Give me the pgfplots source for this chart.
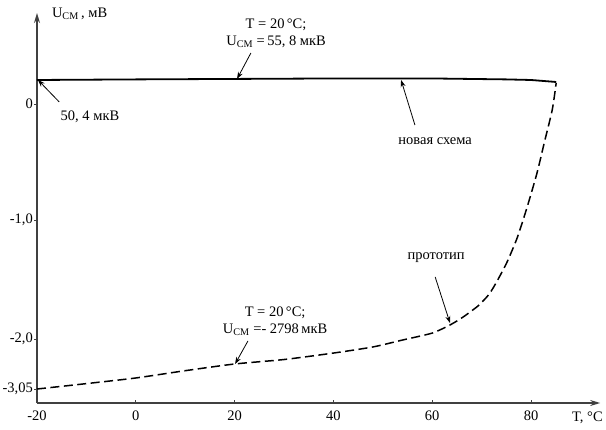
\documentclass[border=0pt]{standalone}
\usepackage{fontspec}
\setmainfont{Liberation Serif}
\usepackage{pgfplots}
\pgfplotsset{compat=1.18}
\usetikzlibrary{arrows.meta,calc}

\begin{document}
\fontsize{14.5bp}{17bp}\selectfont
\begin{tikzpicture}[
  note/.style={-{Stealth[length=7bp,width=5bp]}, line width=0.8bp}]
\begin{axis}[
  x=4.94bp, y=117.5bp,
  xmin=-20, xmax=94, ymin=-2.545, ymax=0.774,
  axis lines=left,
  axis line style={black!75, line width=1.2bp, -{Stealth[length=10bp,width=6bp]}},
  clip=false,
  tick align=outside, major tick length=3bp,
  tick style={black!75, line width=0.8bp},
  x tick style={yshift=3bp},
  xtick={-20,0,20,40,60,80},
  xticklabels={-20,0,20,40,60,80},
  ytick={-2.426,-2,-0.99,0},
  yticklabels={{-3,05},{-2,0},{-1,0},0},
  yticklabel style={inner sep=1bp},
]
  % new circuit
  \addplot[black, line width=1.8bp] coordinates {
    (-20,0.204) (0,0.209) (20,0.213) (40,0.217) (60,0.217)
    (75,0.209) (80,0.204) (85.1,0.187)};
  % prototype
  \addplot[black, line width=1.5bp, dash pattern=on 9bp off 4.5bp,
           smooth, tension=0.4] coordinates {
    (-20,-2.426) (-10,-2.38) (0,-2.332) (10,-2.27) (20,-2.213)
    (30,-2.175) (40,-2.12) (48,-2.068) (54,-2.009)
    (60,-1.95) (63.6,-1.881) (66.2,-1.815) (69.3,-1.718) (71.5,-1.62)
    (73.1,-1.51) (75.1,-1.35) (77.2,-1.14) (79.2,-0.88) (81.2,-0.59)
    (82.8,-0.31) (84.3,-0.05) (85.1,0.179)};

  \coordinate (O) at (axis cs:-20,-2.545);

  \node[anchor=west, inner sep=0] at (axis cs:-17,0.766) {U\textsubscript{СМ}\,, мВ};
  \node[anchor=west, inner sep=0] at (axis cs:88.3,-2.672) {T, °C};

  \node[align=center, inner sep=0] at (axis cs:28.4,0.600)
    {T = 20\,°C;\\U\textsubscript{СМ}\ =\,55, 8 мкВ};
  \draw[note] (axis cs:23.3,0.434) -- (axis cs:20.5,0.213);

  \node[inner sep=0] at (axis cs:-9.27,-0.111) {50, 4 мкВ};
  \draw[note] (axis cs:-15.5,0.017) -- (axis cs:-19.8,0.204);

  \node[inner sep=0] at (axis cs:60.6,-0.315) {новая схема};
  \draw[note] (axis cs:56.5,-0.179) -- (axis cs:53.7,0.204);

  \node[inner sep=0] at (axis cs:60.8,-1.311) {прототип};
  \draw[note] (axis cs:60.6,-1.472) -- (axis cs:63.6,-1.864);

  \node[align=center, inner sep=0] at (axis cs:28.2,-1.851)
    {T = 20\,°C;\\U\textsubscript{СМ} =- 2798\,мкВ};
  \draw[note] (axis cs:22.7,-2.017) -- (axis cs:20.1,-2.213);
\end{axis}
\pgfresetboundingbox
\path ($(O)+(-37bp,-27bp)$) rectangle ($(O)+(569bp,403bp)$);
\end{tikzpicture}
\end{document}
